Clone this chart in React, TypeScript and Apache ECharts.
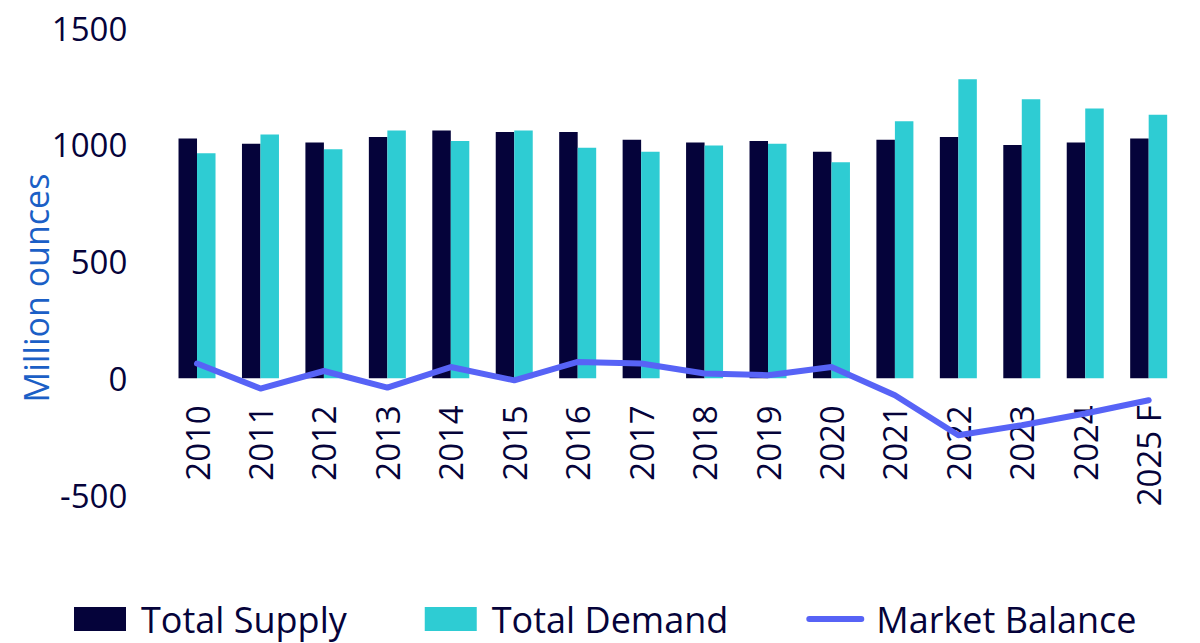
import React, { useEffect, useRef } from "react";
import * as echarts from "echarts";

const years = ["2010", "2011", "2012", "2013", "2014", "2015", "2016", "2017", "2018", "2019", "2020", "2021", "2022", "2023", "2024", "2025 F"];
const totalSupply = [1027, 1004, 1010, 1033, 1061, 1055, 1055, 1021, 1010, 1016, 970, 1021, 1033, 999, 1010, 1027];
const totalDemand = [964, 1044, 981, 1061, 1016, 1061, 987, 970, 997, 1004, 925, 1101, 1281, 1195, 1155, 1128];
const marketBalance = [63, -44, 31, -40, 48, -9, 70, 63, 20, 13, 48, -73, -244, -201, -151, -94];
const yTicks = { min: -500, max: 1500, interval: 500 };

const FONT = "Open Sans";
const NAVY = "#05033A";
const TEAL = "#2ECCD3";
const LINE = "#5763F6";

export default function App() {
  const ref = useRef<HTMLDivElement>(null);
  useEffect(() => {
    if (!ref.current) return;
    const chart = echarts.init(ref.current, undefined, { renderer: "svg" });
    const gridTop = 28;
    const gridBottom = 148;
    const plotH = 643 - gridTop - gridBottom;
    const zeroOffset = (plotH * (0 - yTicks.min)) / (yTicks.max - yTicks.min);
    chart.setOption({
      animation: false,
      backgroundColor: "#ffffff",
      textStyle: { fontFamily: FONT },
      grid: { left: 165.3, right: 19.6, top: gridTop, bottom: gridBottom, containLabel: false },
      legend: {
        left: 69,
        top: 596,
        itemWidth: 52,
        itemHeight: 24,
        itemGap: 78,
        textStyle: { fontFamily: FONT, fontSize: 36, color: NAVY, padding: [0, 0, 0, 10] },
        data: [
          { name: "Total Supply", icon: "rect" },
          { name: "Total Demand", icon: "rect" },
          {
            name: "Market Balance",
            itemStyle: { opacity: 0 },
            lineStyle: { width: 6, cap: "round", color: LINE },
          },
        ],
      },
      xAxis: {
        type: "category",
        data: years,
        offset: -zeroOffset,
        axisLine: { show: false, onZero: false },
        axisTick: { show: false },
        axisLabel: {
          rotate: 90,
          margin: 27,
          fontFamily: FONT,
          fontSize: 33,
          color: NAVY,
          interval: 0,
        },
        splitLine: { show: false },
      },
      yAxis: {
        type: "value",
        min: yTicks.min,
        max: yTicks.max,
        interval: yTicks.interval,
        axisLine: { show: false },
        axisTick: { show: false },
        splitLine: { show: false },
        axisLabel: {
          fontFamily: FONT,
          fontSize: 33,
          color: NAVY,
          margin: 38,
          formatter: (v: number) => String(v),
        },
      },
      graphic: [
        {
          type: "text",
          x: 36,
          y: 288,
          rotation: Math.PI / 2,
          style: {
            text: "Million ounces",
            fontFamily: FONT,
            fontSize: 34,
            fill: "#1B5FC6",
            align: "center",
            verticalAlign: "middle",
          },
        },
      ],
      series: [
        {
          name: "Total Supply",
          type: "bar",
          data: totalSupply,
          barWidth: 18.5,
          barGap: "0%",
          itemStyle: { color: NAVY },
        },
        {
          name: "Total Demand",
          type: "bar",
          data: totalDemand,
          barWidth: 18.5,
          barGap: "0%",
          itemStyle: { color: TEAL },
        },
        {
          name: "Market Balance",
          type: "line",
          data: marketBalance,
          symbol: "none",
          z: 5,
          lineStyle: { color: LINE, width: 6, cap: "round", join: "round" },
          itemStyle: { color: LINE },
        },
      ],
    });
    return () => chart.dispose();
  }, []);
  return (
    <div
      ref={ref}
      style={{ position: "fixed", left: 0, top: 0, width: 1200, height: 643, background: "#fff" }}
    />
  );
}
